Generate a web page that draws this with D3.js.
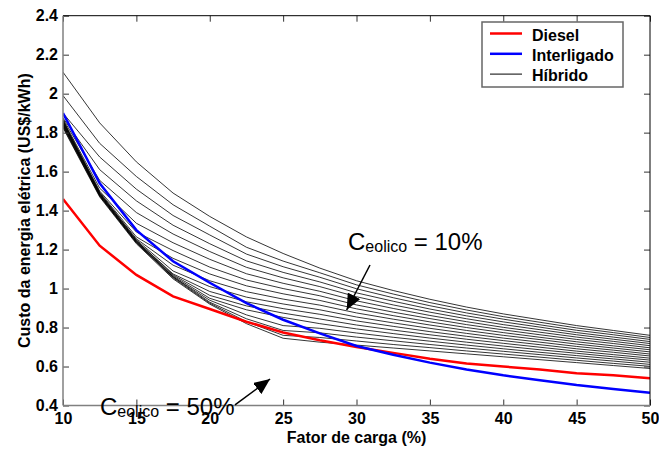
<!DOCTYPE html>
<html>
<head>
<meta charset="utf-8">
<script src="https://cdn.jsdelivr.net/npm/d3@7"></script>
<style>
  body { margin: 0; background: #fff; }
  text { font-family: "Liberation Sans", Arial, sans-serif; }
</style>
</head>
<body>
<div id="chart"></div>
<script>
// fator de carga (%)
var fator = [10, 12.5, 15, 17.5, 20, 22.5, 25, 27.5, 30, 32.5, 35, 37.5, 40, 42.5, 45, 47.5, 50];

var diesel = [1.46, 1.22, 1.07, 0.96, 0.895, 0.83, 0.775, 0.735, 0.70, 0.67, 0.64, 0.615, 0.60, 0.585, 0.565, 0.555, 0.54];
var interligado = [1.90, 1.54, 1.30, 1.14, 1.03, 0.925, 0.84, 0.77, 0.705, 0.66, 0.62, 0.585, 0.555, 0.53, 0.505, 0.485, 0.465];

// hibrido, one curve per C_eolico (10% ... 50%)
var hibrido = [
  [2.11, 1.85, 1.65, 1.49, 1.37, 1.265, 1.18, 1.105, 1.04, 0.99, 0.945, 0.905, 0.87, 0.84, 0.81, 0.785, 0.76],
  [1.99, 1.745, 1.575, 1.43, 1.32, 1.212, 1.141, 1.081, 1.019, 0.972, 0.928, 0.89, 0.856, 0.827, 0.798, 0.774, 0.749],
  [1.90, 1.675, 1.51, 1.375, 1.275, 1.177, 1.112, 1.058, 0.999, 0.953, 0.912, 0.875, 0.843, 0.814, 0.786, 0.763, 0.739],
  [1.875, 1.61, 1.45, 1.325, 1.23, 1.142, 1.083, 1.034, 0.978, 0.935, 0.895, 0.86, 0.829, 0.802, 0.774, 0.751, 0.728],
  [1.87, 1.555, 1.39, 1.28, 1.19, 1.109, 1.055, 1.010, 0.958, 0.916, 0.879, 0.845, 0.815, 0.789, 0.763, 0.740, 0.718],
  [1.865, 1.515, 1.335, 1.235, 1.15, 1.076, 1.027, 0.986, 0.937, 0.898, 0.862, 0.830, 0.801, 0.776, 0.751, 0.729, 0.707],
  [1.86, 1.50, 1.29, 1.195, 1.11, 1.044, 1.00, 0.963, 0.916, 0.879, 0.846, 0.815, 0.788, 0.763, 0.739, 0.718, 0.696],
  [1.86, 1.495, 1.265, 1.155, 1.075, 1.014, 0.973, 0.939, 0.896, 0.861, 0.829, 0.80, 0.774, 0.75, 0.727, 0.706, 0.686],
  [1.855, 1.49, 1.255, 1.12, 1.04, 0.984, 0.946, 0.915, 0.875, 0.843, 0.813, 0.785, 0.76, 0.738, 0.715, 0.695, 0.675],
  [1.85, 1.49, 1.25, 1.09, 1.01, 0.956, 0.921, 0.891, 0.854, 0.824, 0.796, 0.77, 0.746, 0.725, 0.703, 0.684, 0.664],
  [1.85, 1.485, 1.245, 1.075, 0.985, 0.932, 0.897, 0.868, 0.834, 0.806, 0.779, 0.755, 0.733, 0.712, 0.691, 0.673, 0.654],
  [1.845, 1.485, 1.245, 1.07, 0.965, 0.911, 0.874, 0.844, 0.813, 0.787, 0.763, 0.74, 0.719, 0.699, 0.679, 0.661, 0.643],
  [1.84, 1.48, 1.24, 1.065, 0.95, 0.891, 0.852, 0.820, 0.793, 0.769, 0.746, 0.725, 0.705, 0.686, 0.668, 0.65, 0.633],
  [1.84, 1.48, 1.24, 1.06, 0.94, 0.865, 0.81, 0.796, 0.772, 0.75, 0.73, 0.71, 0.691, 0.673, 0.656, 0.639, 0.622],
  [1.835, 1.475, 1.235, 1.06, 0.93, 0.845, 0.785, 0.773, 0.751, 0.732, 0.713, 0.695, 0.678, 0.661, 0.644, 0.628, 0.611],
  [1.83, 1.475, 1.235, 1.055, 0.925, 0.83, 0.76, 0.749, 0.731, 0.713, 0.697, 0.68, 0.664, 0.648, 0.632, 0.616, 0.601],
  [1.825, 1.47, 1.23, 1.05, 0.92, 0.82, 0.745, 0.725, 0.71, 0.695, 0.68, 0.665, 0.65, 0.635, 0.62, 0.605, 0.59]
];

var xTicks = [10, 15, 20, 25, 30, 35, 40, 45, 50];
var yTicks = [0.4, 0.6, 0.8, 1, 1.2, 1.4, 1.6, 1.8, 2, 2.2, 2.4];
var legendNames = ["Diesel", "Interligado", "Híbrido"];

// plot box
var pLeft = 63, pRight = 650, pTop = 15.7, pBottom = 405.5;

var x = d3.scaleLinear().domain([10, 50]).range([pLeft, pRight]);
var y = d3.scaleLinear().domain([0.4, 2.4]).range([pBottom, pTop]);

var svg = d3.select("#chart").append("svg")
  .attr("width", 659)
  .attr("height", 451);

var defs = svg.append("defs");
defs.append("clipPath").attr("id", "clip")
  .append("rect")
  .attr("x", pLeft).attr("y", pTop)
  .attr("width", pRight - pLeft).attr("height", pBottom - pTop);

var arrow = defs.append("marker")
  .attr("id", "head")
  .attr("markerUnits", "userSpaceOnUse")
  .attr("viewBox", "0 0 16 14")
  .attr("refX", 16).attr("refY", 7)
  .attr("markerWidth", 16).attr("markerHeight", 14)
  .attr("orient", "auto");
arrow.append("path").attr("d", "M0,0 L16,7 L0,14 Z").attr("fill", "#000");

var line = d3.line()
  .x(function (d, i) { return x(fator[i]); })
  .y(function (d) { return y(d); });

var plot = svg.append("g").attr("clip-path", "url(#clip)");

plot.selectAll(".hib")
  .data(hibrido)
  .enter().append("path")
  .attr("class", "hib")
  .attr("d", line)
  .attr("fill", "none")
  .attr("stroke", "#000")
  .attr("stroke-width", 0.8);

plot.append("path")
  .attr("d", line(diesel))
  .attr("fill", "none")
  .attr("stroke", "#ff0000")
  .attr("stroke-width", 2.5);

plot.append("path")
  .attr("d", line(interligado))
  .attr("fill", "none")
  .attr("stroke", "#0000ff")
  .attr("stroke-width", 2.5);

// axes
var fmt = function (d) { return String(d); };

var gx = svg.append("g")
  .attr("transform", "translate(0," + pBottom + ")")
  .call(d3.axisBottom(x).tickValues(xTicks).tickSizeInner(-6).tickSizeOuter(0).tickPadding(7).tickFormat(fmt));
var gy = svg.append("g")
  .attr("transform", "translate(" + pLeft + ",0)")
  .call(d3.axisLeft(y).tickValues(yTicks).tickSizeInner(-6).tickSizeOuter(0).tickPadding(5).tickFormat(fmt));
var gt = svg.append("g")
  .attr("transform", "translate(0," + pTop + ")")
  .call(d3.axisTop(x).tickValues(xTicks).tickSizeInner(-6).tickSizeOuter(0).tickFormat(""));
var gr = svg.append("g")
  .attr("transform", "translate(" + pRight + ",0)")
  .call(d3.axisRight(y).tickValues(yTicks).tickSizeInner(-6).tickSizeOuter(0).tickFormat(""));

[gx, gy, gt, gr].forEach(function (g) {
  g.select(".domain").remove();
  g.selectAll("line").attr("stroke", "#333");
  g.selectAll("text")
    .attr("fill", "#000")
    .style("font-family", "'Liberation Sans', Arial, sans-serif")
    .style("font-size", "16px")
    .style("font-weight", "bold");
});

svg.append("line").attr("x1", pLeft).attr("x2", pRight).attr("y1", pTop).attr("y2", pTop)
  .attr("stroke", "#000").attr("stroke-width", 1);
svg.append("line").attr("x1", pRight).attr("x2", pRight).attr("y1", pTop).attr("y2", pBottom)
  .attr("stroke", "#000").attr("stroke-width", 1);
svg.append("line").attr("x1", pLeft).attr("x2", pRight).attr("y1", pBottom).attr("y2", pBottom)
  .attr("stroke", "#808080").attr("stroke-width", 1.5);
svg.append("line").attr("x1", pLeft).attr("x2", pLeft).attr("y1", pTop).attr("y2", pBottom)
  .attr("stroke", "#808080").attr("stroke-width", 1.5);

// axis titles
svg.append("text")
  .attr("x", (pLeft + pRight) / 2)
  .attr("y", 443)
  .style("text-anchor", "middle")
  .style("font-size", "16px")
  .style("font-weight", "bold")
  .text("Fator de carga (%)");

svg.append("text")
  .attr("transform", "rotate(-90)")
  .attr("x", -(pTop + pBottom) / 2)
  .attr("y", 30)
  .style("text-anchor", "middle")
  .style("font-size", "16px")
  .style("font-weight", "bold")
  .text("Custo da energia elétrica (US$/kWh)");

// legend
var lg = svg.append("g").attr("transform", "translate(482,22)");
lg.append("rect")
  .attr("width", 141).attr("height", 65)
  .attr("fill", "#fff")
  .attr("stroke", "#666")
  .attr("stroke-width", 1.5);
var legendColors = ["#ff0000", "#0000ff", "#000"];
var legendWidths = [2.5, 2.5, 1];
legendNames.forEach(function (name, i) {
  lg.append("line")
    .attr("x1", 8).attr("x2", 40)
    .attr("y1", 11.5 + i * 20.3).attr("y2", 11.5 + i * 20.3)
    .attr("stroke", legendColors[i])
    .attr("stroke-width", legendWidths[i]);
  lg.append("text")
    .attr("x", 50)
    .attr("y", 18.5 + i * 20.3)
    .style("font-size", "16px")
    .style("font-weight", "bold")
    .text(name);
});

// annotations
function label(xv, yv, val) {
  var t = svg.append("text")
    .attr("x", x(xv))
    .attr("y", y(yv))
    .style("font-size", "24px");
  t.append("tspan").text("C");
  t.append("tspan").attr("dy", 2).style("font-size", "16px").text("eolico");
  t.append("tspan").attr("dy", -2).text(" = " + val);
}
label(29.42, 1.198, "10%");
label(12.52, 0.351, "50%");

svg.append("line")
  .attr("x1", x(30.92)).attr("y1", y(1.121))
  .attr("x2", x(29.33)).attr("y2", y(0.890))
  .attr("stroke", "#000").attr("stroke-width", 1.5)
  .attr("marker-end", "url(#head)");
svg.append("line")
  .attr("x1", x(21.72)).attr("y1", y(0.403))
  .attr("x2", x(24.11)).attr("y2", y(0.536))
  .attr("stroke", "#000").attr("stroke-width", 1.5)
  .attr("marker-end", "url(#head)");
</script>
</body>
</html>
